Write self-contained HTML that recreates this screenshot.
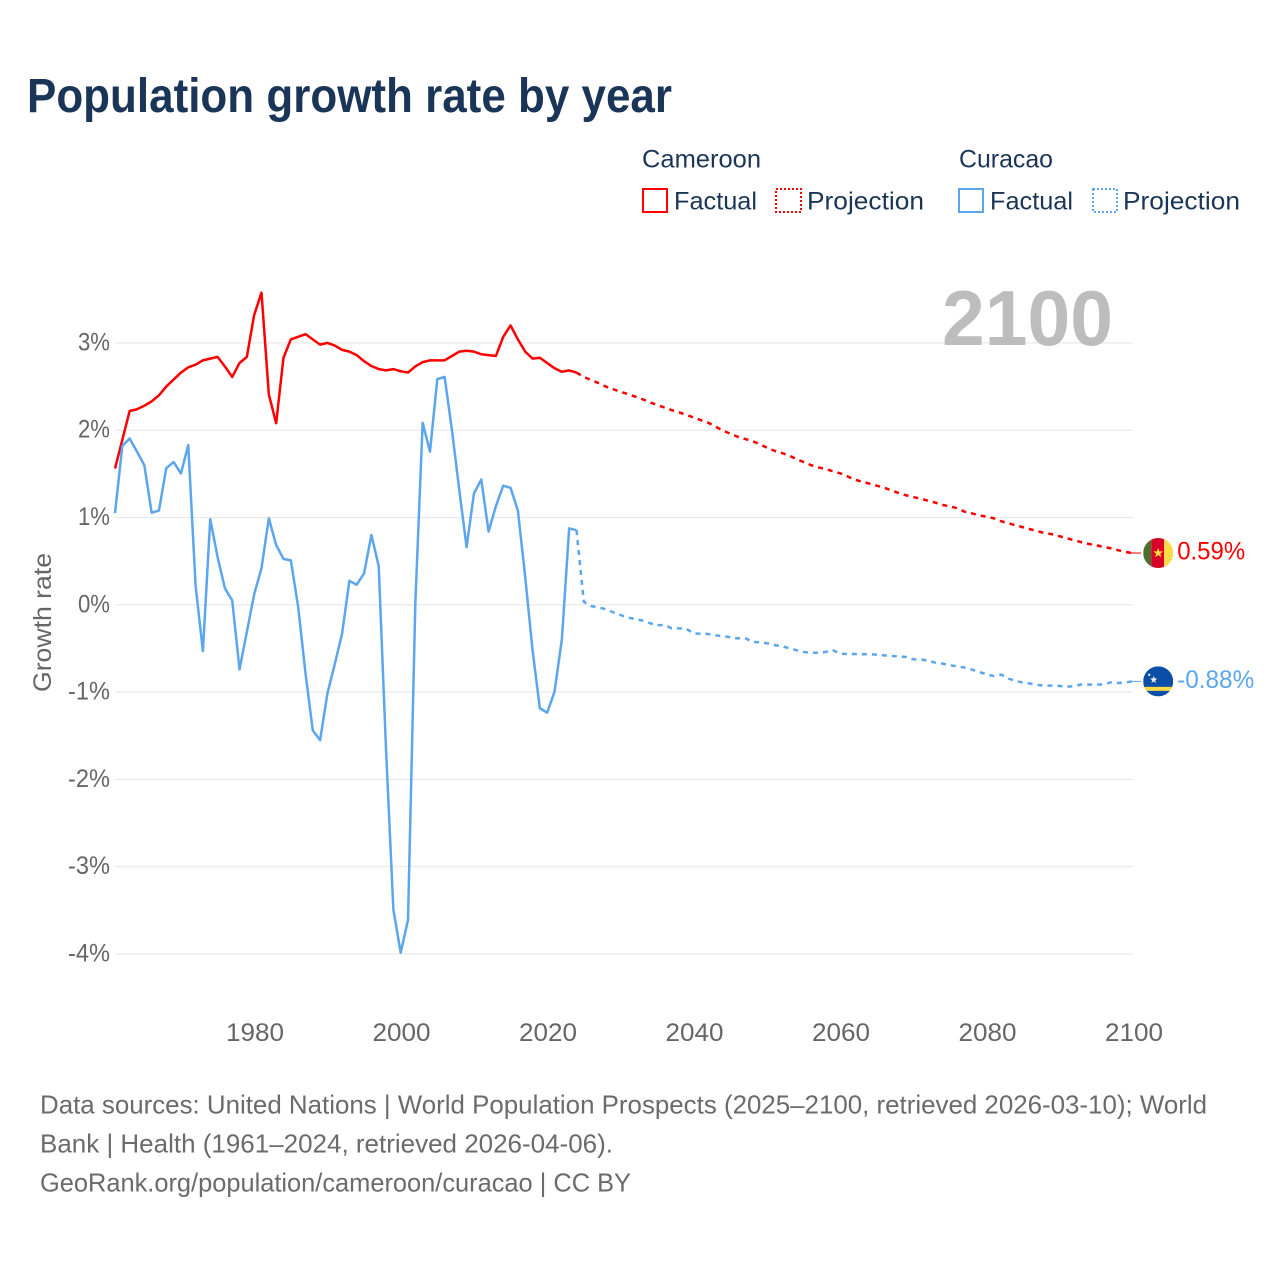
<!DOCTYPE html>
<html lang="en">
<head>
<meta charset="utf-8">
<title>Population growth rate by year</title>
<style>
html,body{margin:0;padding:0;background:#fff;width:1280px;height:1280px;overflow:hidden}
svg{display:block}
text{font-family:"Liberation Sans",sans-serif}
</style>
</head>
<body>
<svg id="chart" xmlns="http://www.w3.org/2000/svg" width="1280" height="1280" viewBox="0 0 1280 1280">
  <rect x="0" y="0" width="1280" height="1280" fill="#fff"/>
  <text x="27" y="112" font-size="48" font-weight="700" fill="#1a3557" textLength="645" lengthAdjust="spacingAndGlyphs">Population growth rate by year</text>

  <g>
    <text x="642" y="167.5" font-size="25" fill="#1a3557" textLength="119" lengthAdjust="spacingAndGlyphs">Cameroon</text>
    <text x="959" y="167.5" font-size="25" fill="#1a3557" textLength="94" lengthAdjust="spacingAndGlyphs">Curacao</text>
    <g>
      <rect x="643" y="189" width="24" height="23" fill="none" stroke="#ff0000" stroke-width="2"/>
      <text x="674" y="209.5" font-size="25" fill="#1a3557" textLength="83" lengthAdjust="spacingAndGlyphs">Factual</text>
    </g>
    <g>
      <rect x="776" y="189" width="25" height="23" fill="none" stroke="#ff0000" stroke-width="2" stroke-dasharray="2 2"/>
      <text x="807" y="209.5" font-size="25" fill="#1a3557" textLength="117" lengthAdjust="spacingAndGlyphs">Projection</text>
    </g>
    <g>
      <rect x="959" y="189" width="24" height="23" fill="none" stroke="#5ca6ee" stroke-width="2"/>
      <text x="990" y="209.5" font-size="25" fill="#1a3557" textLength="83" lengthAdjust="spacingAndGlyphs">Factual</text>
    </g>
    <g>
      <rect x="1093" y="189" width="24" height="23" fill="none" stroke="#5ca6ee" stroke-width="2" stroke-dasharray="2 2"/>
      <text x="1123" y="209.5" font-size="25" fill="#1a3557" textLength="117" lengthAdjust="spacingAndGlyphs">Projection</text>
    </g>
  </g>

  <text transform="translate(51 692) rotate(-90)" x="0" y="0" font-size="25" fill="#666" textLength="139" lengthAdjust="spacingAndGlyphs">Growth rate</text>
  <g id="grid"></g>
  <g id="yticks"></g>
  <g id="xticks"></g>
  <text x="942" y="345" font-size="78" font-weight="700" fill="#bdbdbd" textLength="171" lengthAdjust="spacingAndGlyphs">2100</text>
  <g id="series"></g>

  <defs>
    <clipPath id="flag-clip"><circle cx="0" cy="0" r="15"/></clipPath>
  </defs>
  <g id="flag-cameroon">
    <g clip-path="url(#flag-clip)">
      <rect x="-15" y="-15" width="8" height="30" fill="#4d6f2e"/>
      <rect x="-7" y="-15" width="13" height="30" fill="#d80027"/>
      <rect x="6" y="-15" width="9" height="30" fill="#ffda44"/>
      <polygon points="0,-5 1.3,-1.6 5,-1.6 2,0.7 3.1,4.2 0,2.1 -3.1,4.2 -2,0.7 -5,-1.6 -1.3,-1.6" fill="#ffda44"/>
    </g>
  </g>
  <g id="flag-curacao">
    <g clip-path="url(#flag-clip)">
      <rect x="-15" y="-15" width="30" height="30" fill="#0b4ea8"/>
      <rect x="-15" y="5.5" width="30" height="4" fill="#ffda44"/>
      <polygon points="-4.5,-5.5 -3.5,-2.8 -0.8,-2.8 -3,-1.1 -2.2,1.6 -4.5,0 -6.8,1.6 -6,-1.1 -8.2,-2.8 -5.5,-2.8" fill="#f0f0f0"/>
      <circle cx="-9" cy="-6.5" r="1.2" fill="#f0f0f0"/>
    </g>
  </g>
  <text id="end-label-cameroon" font-size="25" fill="#ff0000" textLength="68" lengthAdjust="spacingAndGlyphs"></text>
  <text id="end-label-curacao" font-size="25" fill="#5ca6ee" textLength="77" lengthAdjust="spacingAndGlyphs"></text>

  <g font-size="26" fill="#6b6b6b">
    <text x="40" y="1113.5" textLength="1167" lengthAdjust="spacingAndGlyphs">Data sources: United Nations | World Population Prospects (2025–2100, retrieved 2026-03-10); World</text>
    <text x="40" y="1152.5" textLength="573" lengthAdjust="spacingAndGlyphs">Bank | Health (1961–2024, retrieved 2026-04-06).</text>
    <text x="40" y="1191.5" textLength="591" lengthAdjust="spacingAndGlyphs">GeoRank.org/population/cameroon/curacao | CC BY</text>
  </g>
</svg>
<script>
const firstYear = 1961;
const lastYear = 2100;
const yTickValues = [3, 2, 1, 0, -1, -2, -3, -4];
const xTickYears = [1980, 2000, 2020, 2040, 2060, 2080, 2100];

const cameroonFactual = [1.56,1.89,2.22,2.24,2.28,2.33,2.40,2.50,2.58,2.66,2.72,2.75,2.80,2.82,2.84,2.73,2.61,2.77,2.84,3.32,3.575,2.41,2.08,2.83,3.04,3.07,3.10,3.04,2.98,3.00,2.97,2.92,2.90,2.86,2.79,2.735,2.70,2.685,2.70,2.675,2.66,2.73,2.78,2.80,2.80,2.80,2.85,2.90,2.91,2.90,2.87,2.86,2.85,3.07,3.20,3.04,2.90,2.82,2.83,2.77,2.71,2.67,2.685,2.66];
const cameroonProjection = [2.61,2.575,2.54,2.50,2.47,2.44,2.415,2.385,2.355,2.32,2.29,2.26,2.23,2.205,2.175,2.145,2.115,2.085,2.04,1.995,1.96,1.925,1.90,1.875,1.84,1.80,1.765,1.74,1.71,1.67,1.635,1.60,1.575,1.555,1.53,1.506,1.471,1.433,1.41,1.387,1.364,1.341,1.311,1.28,1.254,1.234,1.215,1.192,1.17,1.143,1.128,1.105,1.066,1.047,1.024,1.009,0.99,0.956,0.933,0.91,0.887,0.864,0.841,0.822,0.807,0.784,0.761,0.738,0.715,0.696,0.681,0.662,0.646,0.624,0.604,0.593];
const curacaoFactual = [1.05,1.82,1.905,1.755,1.60,1.055,1.08,1.565,1.635,1.505,1.83,0.22,-0.53,0.98,0.55,0.19,0.05,-0.74,-0.31,0.12,0.42,0.99,0.685,0.525,0.51,-0.02,-0.78,-1.44,-1.55,-1.015,-0.68,-0.33,0.275,0.23,0.36,0.80,0.445,-1.66,-3.49,-3.985,-3.61,0.02,2.085,1.755,2.585,2.61,2.0,1.315,0.66,1.275,1.435,0.84,1.13,1.365,1.34,1.08,0.32,-0.52,-1.185,-1.235,-0.995,-0.40,0.875,0.855];
const curacaoProjection = [0.035,-0.015,-0.03,-0.05,-0.085,-0.117,-0.147,-0.163,-0.18,-0.21,-0.235,-0.23,-0.27,-0.27,-0.275,-0.33,-0.33,-0.335,-0.35,-0.36,-0.37,-0.385,-0.38,-0.425,-0.43,-0.44,-0.46,-0.475,-0.495,-0.52,-0.54,-0.55,-0.55,-0.54,-0.52,-0.56,-0.564,-0.564,-0.567,-0.567,-0.571,-0.579,-0.587,-0.59,-0.598,-0.625,-0.625,-0.64,-0.663,-0.674,-0.693,-0.705,-0.72,-0.743,-0.77,-0.797,-0.816,-0.80,-0.846,-0.873,-0.892,-0.903,-0.919,-0.926,-0.926,-0.93,-0.938,-0.93,-0.911,-0.915,-0.915,-0.911,-0.888,-0.896,-0.888,-0.877];

const NS = 'http://www.w3.org/2000/svg';
const RED = '#ff0000';
const BLUE = '#5ca6ee';
function xScale(year) { return 115 + (year - firstYear) * (1018.2 / (lastYear - firstYear)); }
function yScale(value) { return 604.8 - value * 87.3; }
function make(tag, attrs, parent) {
  const el = document.createElementNS(NS, tag);
  for (const k in attrs) el.setAttribute(k, attrs[k]);
  parent.appendChild(el);
  return el;
}
function linePath(values, startYear) {
  return values.map((v, i) => (i ? 'L' : 'M') + xScale(startYear + i).toFixed(2) + ' ' + yScale(v).toFixed(2)).join(' ');
}

const grid = document.getElementById('grid');
const yticks = document.getElementById('yticks');
yTickValues.forEach(v => {
  const g = make('line', {x1: xScale(firstYear), x2: xScale(lastYear), y1: yScale(v), y2: yScale(v), stroke: '#e9e9e9', 'stroke-width': 1.2}, grid);
  
  
  const t = make('text', {x: 110, y: yScale(v) + 7.5, 'text-anchor': 'end', 'font-size': 25, fill: '#666', textLength: v < 0 ? 42 : 32, lengthAdjust: 'spacingAndGlyphs'}, yticks);
  
  
  t.textContent = v + '%';
});

const xticks = document.getElementById('xticks');
xTickYears.forEach(year => {
  const t = make('text', {x: xScale(year) + 0.8, y: 1041, 'text-anchor': 'middle', 'font-size': 25, fill: '#666', textLength: 58, lengthAdjust: 'spacingAndGlyphs'}, xticks);
  
  
  t.textContent = year;
});

const seriesGroup = document.getElementById('series');
function drawSeries(name, color, factual, projection) {
  const projStart = firstYear + factual.length;
  const last = factual[factual.length - 1];
  const proj = make('path', {d: linePath([last].concat(projection), projStart - 1), fill: 'none', stroke: color, 'stroke-width': 2.5, 'stroke-dasharray': '5 5', 'stroke-linejoin': 'round'}, seriesGroup);
  
  
  const fact = make('path', {d: linePath(factual, firstYear), fill: 'none', stroke: color, 'stroke-width': 2.5, 'stroke-linejoin': 'round'}, seriesGroup);
  
  
  const end = projection[projection.length - 1];
  const ex = xScale(lastYear), ey = yScale(end);
  const conn = make('line', {x1: ex - 3, x2: ex + 8, y1: ey, y2: ey, stroke: color, 'stroke-width': 1}, seriesGroup);
  
  
  document.getElementById('flag-' + name).setAttribute('transform', 'translate(' + (ex + 25) + ' ' + ey + ')');
  const label = document.getElementById('end-label-' + name);
  label.setAttribute('x', ex + 44);
  label.setAttribute('y', ey + 6.5);
  label.textContent = end.toFixed(2) + '%';
}
drawSeries('cameroon', RED, cameroonFactual, cameroonProjection);
drawSeries('curacao', BLUE, curacaoFactual, curacaoProjection);
</script>
</body>
</html>
